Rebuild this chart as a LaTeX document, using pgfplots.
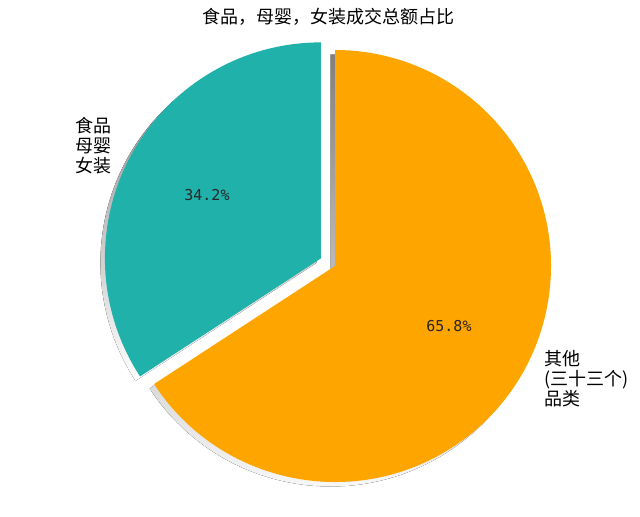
\documentclass[border=0pt]{standalone}
\usepackage{pgfplots}
\pgfplotsset{compat=1.18}
\usepackage{pgfplotstable}
\usepackage{fontspec}
\newfontfamily\cjk{Noto Sans CJK SC}
\newfontfamily\pctfont{DejaVu Sans Mono}

\definecolor{sliceA}{HTML}{20B2AA}
\definecolor{sliceB}{HTML}{FFA500}
\definecolor{shade}{RGB}{142,142,142}

% shares of the two slices, in per cent
\pgfplotstableread{
share
34.2
65.8
}\sharetable

\begin{document}
\begin{tikzpicture}
% pie geometry, in points (1 axis unit = 1pt)
\def\cx{335}\def\cy{225}\def\r{216}
\pgfplotstablegetelem{0}{share}\of\sharetable
\let\shareA\pgfplotsretval
\pgfmathsetmacro{\split}{90+3.6*\shareA}
\pgfmathsetmacro{\midA}{(90+\split)/2}
\pgfmathsetmacro{\midB}{(\split+450)/2}
% teal slice is pulled out by 16pt
\pgfmathsetmacro{\ex}{16*cos(\midA)}
\pgfmathsetmacro{\ey}{16*sin(\midA)}
\begin{axis}[
    scale only axis,
    width=640pt, height=491pt,
    xmin=0, xmax=640, ymin=0, ymax=491,
    hide axis, clip=false,
]
    \path (axis cs:0,0) rectangle (axis cs:640,491);

    % shadows
    \fill[shade] (axis cs:{\cx+\ex-4.5},{\cy+\ey-4.5}) -- ++(90:\r pt)
        arc[start angle=90, end angle=\split, radius=\r pt] -- cycle;
    \fill[shade] (axis cs:{\cx-4.5},{\cy-4.5}) -- ++(\split:\r pt)
        arc[start angle=\split, end angle=450, radius=\r pt] -- cycle;

    % slices
    \fill[sliceA] (axis cs:{\cx+\ex},{\cy+\ey}) -- ++(90:\r pt)
        arc[start angle=90, end angle=\split, radius=\r pt] -- cycle;
    \fill[sliceB] (axis cs:\cx,\cy) -- ++(\split:\r pt)
        arc[start angle=\split, end angle=450, radius=\r pt] -- cycle;

    % labels
    \node[anchor=east, align=right, inner sep=0pt,
          font=\cjk\fontsize{18}{20}\selectfont]
        at (axis cs:{\cx+\ex+1.1*\r*cos(\midA)},{\cy+\ey+1.1*\r*sin(\midA)})
        {食品\\母婴\\女装};
    \node[anchor=west, align=left, inner sep=0pt,
          font=\cjk\fontsize{18}{20}\selectfont]
        at (axis cs:{\cx+1.1*\r*cos(\midB)},{\cy+1.1*\r*sin(\midB)})
        {其他\\(三十三个)\\品类};

    % percentages
    \node[font=\pctfont\fontsize{15}{18}\selectfont, text=black!85]
        at (axis cs:{\cx+\ex+0.6*\r*cos(\midA)},{\cy+\ey+0.6*\r*sin(\midA)+2})
        {34.2\%};
    \node[font=\pctfont\fontsize{15}{18}\selectfont, text=black!85]
        at (axis cs:{\cx+0.6*\r*cos(\midB)},{\cy+0.6*\r*sin(\midB)+2})
        {65.8\%};

    % title
    \node[font=\cjk\fontsize{18}{20}\selectfont] at (axis cs:328,474)
        {食品，母婴，女装成交总额占比};
\end{axis}
\end{tikzpicture}
\end{document}
